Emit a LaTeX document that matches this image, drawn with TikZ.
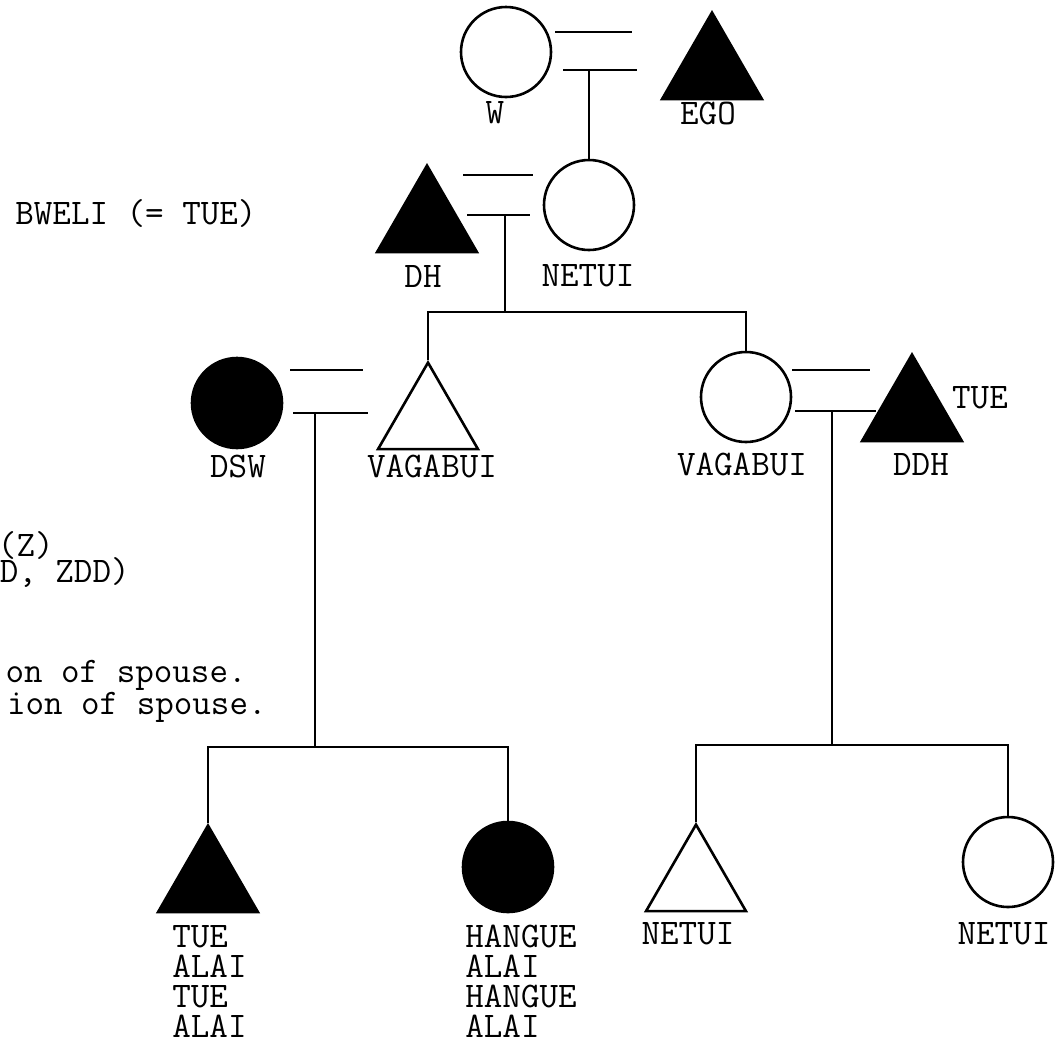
\documentclass[tikz,border=0pt]{standalone}
\usepackage{tikz}
\usetikzlibrary{positioning,shapes.geometric}
\newcommand{\ttname}{\fontsize{18}{15}\selectfont\ttfamily}
\tikzset{
  fem/.style={circle,draw,line width=1.3pt,minimum size=45pt,inner sep=0pt},
  femx/.style={fem,fill=black},
  mal/.style={regular polygon,regular polygon sides=3,draw,line width=1.3pt,
    minimum size=57.7pt,inner sep=0pt,anchor=corner 1},
  malx/.style={mal,fill=black},
  lbl/.style={font=\ttname,inner sep=0pt},
  ln/.style={line width=1.3pt},
}
\begin{document}
\begin{tikzpicture}[x=0.5pt,y=-0.5pt]
  \useasboundingbox (0,0) rectangle (1055,1045);
  % generation 1
  \node[fem] (w) at (506,52) {};
  \node[malx] (ego) at (712,10) {};
  \node[lbl] (wl) at (495,113) {W};
  \node[lbl] (egol) at (708,113) {EGO};
  % generation 2
  \node[fem] (netui) at (589,205) {};
  \node[malx] (dh) at (427,163) {};
  \node[lbl] (netuil) at (588,276) {NETUI};
  \node[lbl] (dhl) at (423,276) {DH};
  \node[lbl,anchor=west] (bweli) at (15,213) {BWELI (= TUE)};
  % generation 3
  \node[femx] (dsw) at (237,403) {};
  \node[mal] (vag1) at (428,360) {};
  \node[fem] (vag2) at (746,397) {};
  \node[malx] (ddh) at (912,352) {};
  \node[lbl] (dswl) at (238,466) {DSW};
  \node[lbl] (vag1l) at (432,466) {VAGABUI};
  \node[lbl] (vag2l) at (742,464) {VAGABUI};
  \node[lbl] (ddhl) at (921,464) {DDH};
  \node[lbl] (tuel) at (980,398) {TUE};
  % generation 4
  \node[malx] (tue) at (208,823) {};
  \node[femx] (hangue) at (508,867) {};
  \node[mal] (net1) at (696,822) {};
  \node[fem] (net2) at (1008,862) {};
  \node[lbl,anchor=north west,align=left] (tuestack) at (172,925) {TUE\\ALAI\\TUE\\ALAI};
  \node[lbl,anchor=north west,align=left] (hstack) at (465,925) {HANGUE\\ALAI\\HANGUE\\ALAI};
  \node[lbl] (net1l) at (688,934) {NETUI};
  \node[lbl] (net2l) at (1004,934) {NETUI};
  % key, cut at the left edge
  \node[lbl,anchor=east] (key1) at (54,545) {(Z)};
  \node[lbl,anchor=east] (key2) at (130,572) {D, ZDD)};
  \node[lbl,anchor=east] (key3) at (247,675) {on of spouse.};
  \node[lbl,anchor=east] (key4) at (267,707) {ion of spouse.};
  % marriages and descent
  \coordinate (mw) at (589,70);
  \coordinate (mdh) at (505,215);
  \coordinate (bar1) at (505,312);
  \coordinate (mdsw) at (315,413);
  \coordinate (bar2) at (315,747);
  \coordinate (mvag) at (832,411);
  \coordinate (bar3) at (832,745);
  \draw[ln] (555,32) -- (632,32);
  \draw[ln] (563,70) -- (637,70);
  \draw[ln] (mw) -- (netui);
  \draw[ln] (463,175) -- (533,175);
  \draw[ln] (467,215) -- (530,215);
  \draw[ln] (mdh) -- (bar1);
  \draw[ln] (vag1.corner 1) |- (bar1) -| (vag2.north);
  \draw[ln] (290,370) -- (363,370);
  \draw[ln] (293,413) -- (368,413);
  \draw[ln] (mdsw) -- (bar2);
  \draw[ln] (tue.corner 1) |- (bar2) -| (hangue.north);
  \draw[ln] (792,370) -- (870,370);
  \draw[ln] (795,411) -- (876,411);
  \draw[ln] (mvag) -- (bar3);
  \draw[ln] (net1.corner 1) |- (bar3) -| (net2.north);
\end{tikzpicture}
\end{document}
